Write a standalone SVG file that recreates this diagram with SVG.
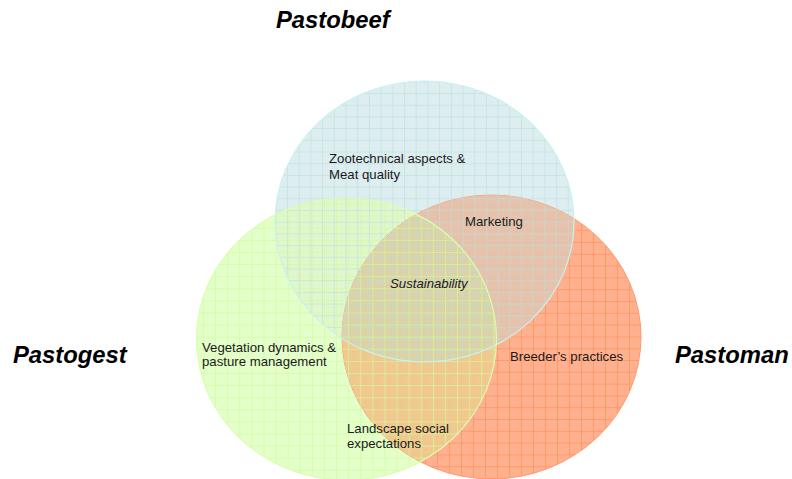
<svg xmlns="http://www.w3.org/2000/svg" width="792" height="479" viewBox="0 0 792 479">
<style>
text{font-family:"Liberation Sans",Arial,sans-serif;fill:#1a1a1a}
.l{font-size:13.2px}
.t{font-size:23.8px;font-weight:bold;font-style:italic;fill:#000}
</style>
<defs>
<ellipse id="eo" cx="491.5" cy="337" rx="149.5" ry="142"/>
<ellipse id="eb" cx="424.5" cy="221.5" rx="149.5" ry="140.5"/>
<ellipse id="eg" cx="346.5" cy="339" rx="150" ry="141"/>
<clipPath id="co"><use href="#eo"/></clipPath>
<clipPath id="cb"><use href="#eb"/></clipPath>
<clipPath id="cg"><use href="#eg"/></clipPath>
<pattern id="po" patternUnits="userSpaceOnUse" x="485" y="360" width="12" height="11.8"><rect x="-0.5" width="1.4" height="12" fill="#ff9866"/><rect y="-0.5" width="12" height="1.4" fill="#ff9866"/></pattern>
<pattern id="pg" patternUnits="userSpaceOnUse" x="203" y="373" width="12.1" height="12.1"><rect x="-0.5" width="1.3" height="13" fill="#d4f99c"/><rect y="-0.5" width="13" height="1.3" fill="#d4f99c"/></pattern>
<pattern id="pb" patternUnits="userSpaceOnUse" x="287" y="93" width="11.7" height="11.7"><rect x="-0.5" width="1.3" height="13" fill="#bcdedc"/><rect y="-0.5" width="13" height="1.3" fill="#bcdedc"/></pattern>
<pattern id="dither" patternUnits="userSpaceOnUse" width="2" height="2"><rect width="1" height="1" fill="#fff" fill-opacity="0.08"/><rect x="1" y="1" width="1" height="1" fill="#fff" fill-opacity="0.08"/></pattern>
</defs>
<g id="circles">
<g id="fills">
<use href="#eb" fill="#dcedf0"/>
<use href="#eg" fill="#e2ffc8"/>
<g clip-path="url(#cb)"><use href="#eg" fill="#ddf6c8"/></g>
<use href="#eo" fill="#ffb08f" stroke="#ff9a70" stroke-width="1"/>
<use href="#eo" fill="url(#po)"/>
<g clip-path="url(#co)">
<use href="#eb" fill="#dfc3af" fill-opacity="0.82"/>
<use href="#eg" fill="#ebcc8a" fill-opacity="0.82"/>
</g>
</g>
<g id="triple" clip-path="url(#co)"><g clip-path="url(#cb)"><use href="#eg" fill="#d8cfa0"/></g></g>
<g id="dithering"><use href="#eb" fill="url(#dither)"/><use href="#eg" fill="url(#dither)"/></g>
<use id="pastobeef-grid" href="#eb" fill="url(#pb)" fill-opacity="0.75"/>
<use id="pastogest-grid" href="#eg" fill="url(#pg)" fill-opacity="0.8"/>
<g id="outlines" fill="none" stroke-width="1.2">
<use href="#eb" stroke="#c8f2f2"/>
<use href="#eg" stroke="#d8ffb0"/>
</g>
</g>
<g id="labels">
<text class="t" x="276" y="28">Pastobeef</text>
<text class="t" x="13" y="363">Pastogest</text>
<text class="t" x="675" y="363">Pastoman</text>
<text class="l" x="329" y="163">Zootechnical aspects &amp;</text>
<text class="l" x="329" y="179">Meat quality</text>
<text class="l" x="465" y="226">Marketing</text>
<text class="l" x="390" y="288" font-style="italic">Sustainability</text>
<text class="l" x="202" y="352">Vegetation dynamics &amp;</text>
<text class="l" x="202" y="366">pasture management</text>
<text class="l" x="510" y="361">Breeder’s practices</text>
<text class="l" x="347" y="433">Landscape social</text>
<text class="l" x="347" y="448">expectations</text>
</g>
</svg>
